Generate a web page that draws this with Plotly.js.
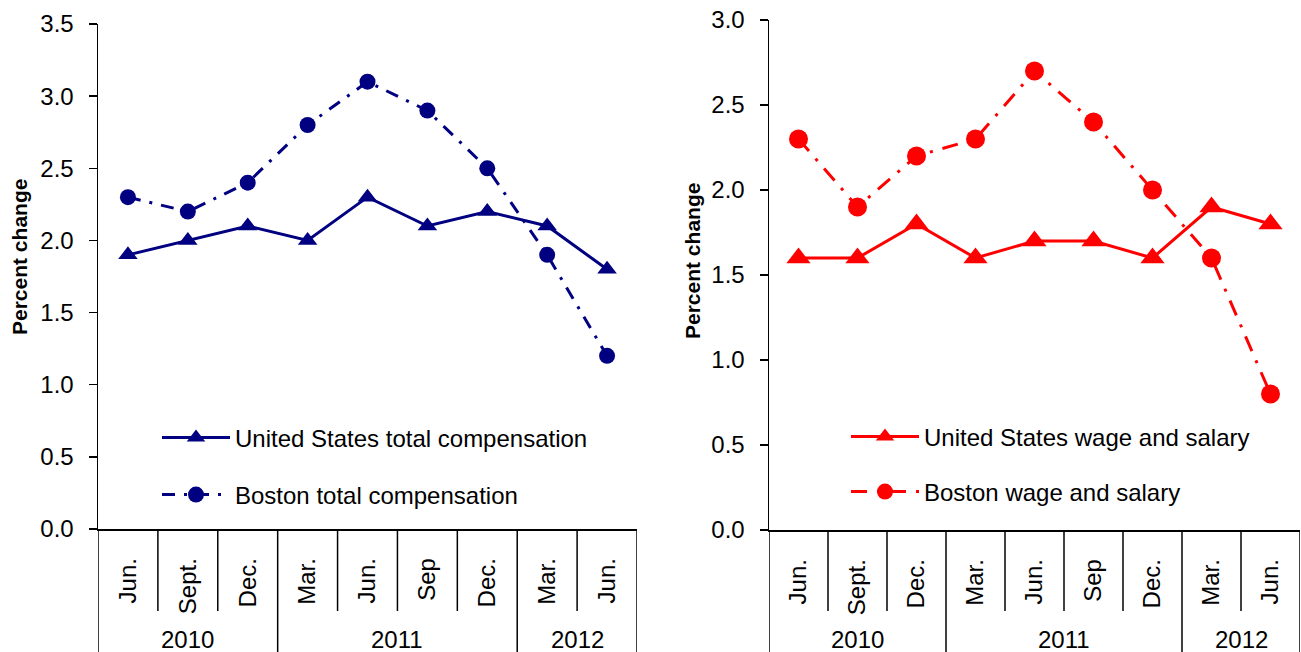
<!DOCTYPE html>
<html>
<head>
<meta charset="utf-8">
<script src="https://cdn.plot.ly/plotly-3.0.1.min.js"></script>
<style>html,body{margin:0;padding:0;background:#fff;}#chart{width:1301px;height:652px;}</style>
</head>
<body>
<div id="chart"></div>
<script>
// ---- data ----
const categories = ['Jun.', 'Sept.', 'Dec.', 'Mar.', 'Jun.', 'Sep', 'Dec.', 'Mar.', 'Jun.'];
const years = ['2010', '2010', '2010', '2011', '2011', '2011', '2011', '2012', '2012'];
const usTotal = [1.9, 2.0, 2.1, 2.0, 2.3, 2.1, 2.2, 2.1, 1.8];
const bostonTotal = [2.3, 2.2, 2.4, 2.8, 3.1, 2.9, 2.5, 1.9, 1.2];
const usWage = [1.6, 1.6, 1.8, 1.6, 1.7, 1.7, 1.6, 1.9, 1.8];
const bostonWage = [2.3, 1.9, 2.2, 2.3, 2.7, 2.4, 2.0, 1.6, 0.8];
const seriesNames = ['United States total compensation', 'Boston total compensation',
                     'United States wage and salary', 'Boston wage and salary'];

// ---- styling ----
const FONT = '"Liberation Sans", Arial, sans-serif';
const NAVY = '#000080';
const RED = '#ff0000';
const W = 1301, H = 652;
const idx = categories.map((_, i) => i);
const py = v => (H - v) / H;

const traces = [
  {x: idx, y: usTotal, name: seriesNames[0], xaxis: 'x', yaxis: 'y', legend: 'legend',
   mode: 'lines+markers', line: {color: NAVY, width: 3},
   marker: {symbol: 'triangle-up', size: 17, color: NAVY}},
  {x: idx, y: bostonTotal, name: seriesNames[1], xaxis: 'x', yaxis: 'y', legend: 'legend2',
   mode: 'lines+markers', line: {color: NAVY, width: 3, dash: '13px,9px,3px,9px'},
   marker: {symbol: 'circle', size: 16, color: NAVY}},
  {x: idx, y: usWage, name: seriesNames[2], xaxis: 'x2', yaxis: 'y2', legend: 'legend3',
   mode: 'lines+markers', line: {color: RED, width: 3},
   marker: {symbol: 'triangle-up', size: 21, color: RED}},
  {x: idx, y: bostonWage, name: seriesNames[3], xaxis: 'x2', yaxis: 'y2', legend: 'legend4',
   mode: 'lines+markers', line: {color: RED, width: 3, dash: '16px,10px,3px,10px'},
   marker: {symbol: 'circle', size: 19, color: RED}}
];

// panel geometry in pixels
const panels = [
  {xa: 'x', ya: 'y', left: 98, right: 637, top: 24, bottom: 529, ymax: 3.5, titleX: 20, titleY: 257},
  {xa: 'x2', ya: 'y2', left: 769, right: 1300, top: 20, bottom: 530, ymax: 3.0, titleX: 692, titleY: 261}
];

function xAxis(p) {
  return {
    domain: [p.left / W, p.right / W], anchor: p.ya === 'y' ? 'y' : 'y2',
    range: [-0.5, categories.length - 0.5], showgrid: false, zeroline: false,
    showline: true, linecolor: '#000', linewidth: 1.5,
    tickmode: 'array', tickvals: idx, ticktext: categories, tickangle: -90,
    ticks: '', ticklabelstandoff: 18,
    tickfont: {family: FONT, size: 24, color: '#000'}
  };
}
function yAxis(p) {
  return {
    domain: [py(p.bottom), py(p.top)], anchor: p.xa,
    range: [0, p.ymax], dtick: 0.5, tickformat: '.1f', showgrid: false, zeroline: false,
    showline: true, linecolor: '#000', linewidth: 1.5,
    ticks: 'outside', ticklen: 8, tickwidth: 1.5, tickcolor: '#000', ticklabelstandoff: 10,
    tickfont: {family: FONT, size: 24, color: '#000'}
  };
}

const shapes = [];
const annotations = [];
panels.forEach(p => {
  // category separators
  for (let b = 0; b <= categories.length; b++) {
    const isYearEdge = b === 0 || b === categories.length || years[b] !== years[b - 1];
    shapes.push({type: 'line', xref: p.xa, yref: 'paper', x0: b - 0.5, x1: b - 0.5,
      y0: py(p.bottom), y1: isYearEdge ? 0 : py(611), line: {color: '#000', width: 1.5}});
  }
  // year labels
  const uniq = [...new Set(years)];
  uniq.forEach(yr => {
    const ii = idx.filter(i => years[i] === yr);
    const c = (ii[0] + ii[ii.length - 1]) / 2;
    annotations.push({xref: p.xa, yref: 'paper', x: c, y: py(639), text: yr, showarrow: false,
      xanchor: 'center', yanchor: 'middle', font: {family: FONT, size: 24, color: '#000'}});
  });
  // y axis title
  annotations.push({xref: 'paper', yref: 'paper', x: p.titleX / W, y: py(p.titleY), text: 'Percent change',
    textangle: -90, showarrow: false, xanchor: 'center', yanchor: 'middle',
    font: {family: FONT, size: 21, color: '#000', weight: 'bold'}});
});

function legendAt(px, pyy) {
  return {x: px / W, y: py(pyy), xanchor: 'left', yanchor: 'middle', bgcolor: 'rgba(0,0,0,0)',
    borderwidth: 0, itemwidth: 68, font: {family: FONT, size: 24, color: '#000'}};
}

const layout = {
  width: W, height: H, margin: {l: 0, r: 0, t: 0, b: 0},
  paper_bgcolor: '#fff', plot_bgcolor: '#fff',
  showlegend: true,
  xaxis: xAxis(panels[0]), yaxis: yAxis(panels[0]),
  xaxis2: xAxis(panels[1]), yaxis2: yAxis(panels[1]),
  legend: legendAt(157, 438), legend2: legendAt(157, 495),
  legend3: legendAt(846, 437), legend4: legendAt(846, 492),
  shapes: shapes, annotations: annotations
};

Plotly.newPlot('chart', traces, layout, {displayModeBar: false, staticPlot: true});
</script>
</body>
</html>
